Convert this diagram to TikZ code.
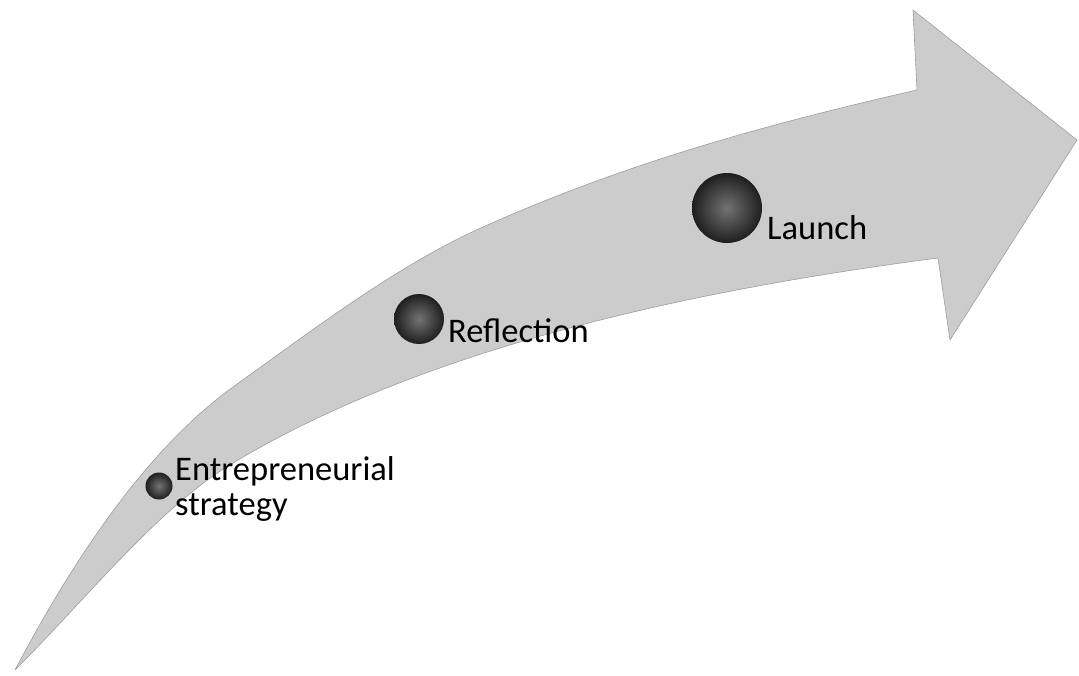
\documentclass[tikz,border=0pt]{standalone}
\usepackage{fontspec}
\setmainfont{Carlito}
\begin{document}
\begin{tikzpicture}[x=1pt,y=-1pt,
  band/.style={fill=black!20,draw=black!38,line width=0.6pt,line join=round},
  dot/.style={circle,inner sep=0pt,shading=radial,inner color=black!55,outer color=black!88},
  lbl/.style={font=\fontsize{34.5}{35}\selectfont,inner sep=0pt,text=black,align=left}]
\useasboundingbox (0,0) rectangle (1079,675);
\path[band]
  (15,670) .. controls (85,537) and (158,441) .. (233,387)
  .. controls (318,326) and (398,265) .. (483,227)
  .. controls (628,162) and (772,123) .. (917,90)
  -- (913,10) -- (1077,140) -- (950,340) -- (938,258)
  .. controls (708,288) and (433,343) .. (233,463)
  .. controls (158,508) and (90,595) .. (15,670)
  -- cycle;
\node[dot,minimum size=27pt] (d1) at (159,486) {};
\node[dot,minimum size=50pt] (d2) at (419,319) {};
\node[dot,minimum size=70pt] (d3) at (727,208) {};
\node[lbl,anchor=base west] (t1) at (175,515) {Entrepreneurial\\strategy};
\node[lbl,anchor=base west] (t2) at (448,342) {Reflection};
\node[lbl,anchor=base west] (t3) at (767,239) {Launch};
\end{tikzpicture}
\end{document}
